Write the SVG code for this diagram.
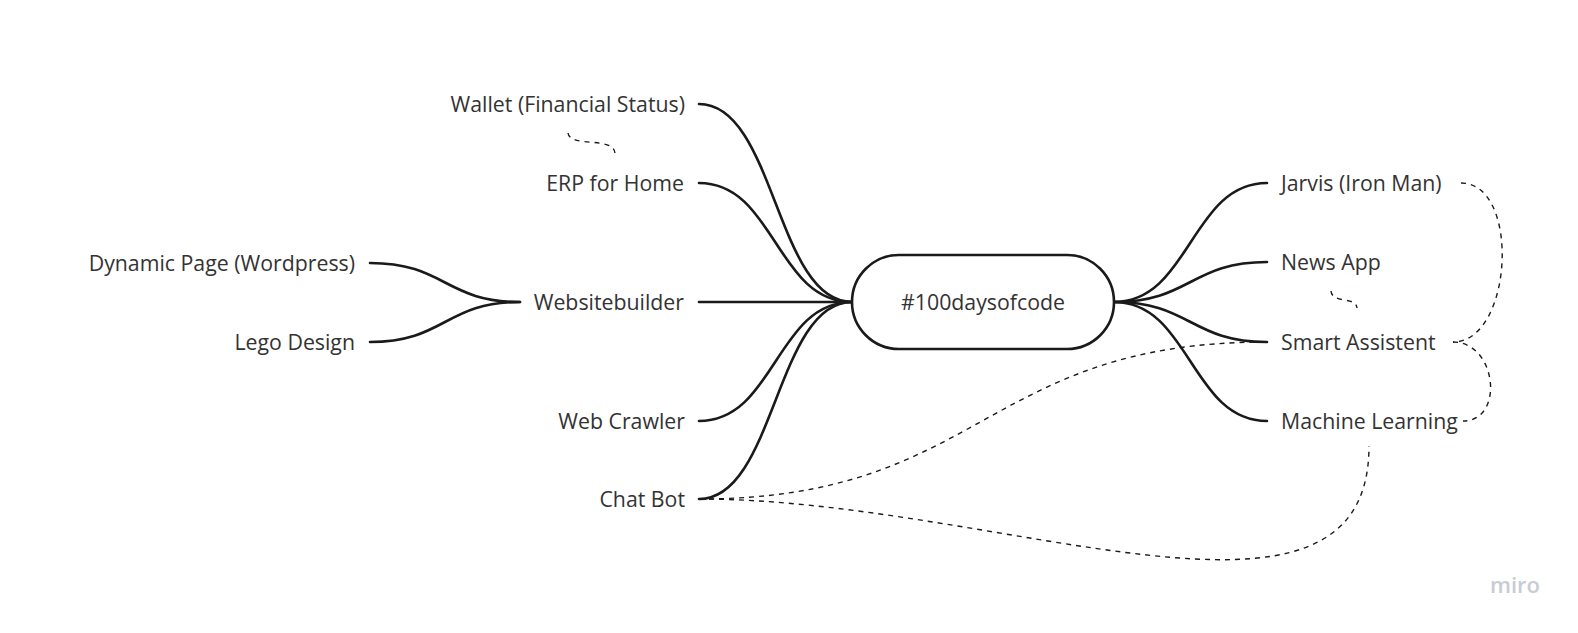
<svg xmlns="http://www.w3.org/2000/svg" width="1578" height="633" viewBox="0 0 1578 633">
<style>
.t{font-family:"Open Sans","Noto Sans","Liberation Sans",sans-serif;font-size:21.3px;fill:#333333}
.s{fill:none;stroke:#1a1a1a;stroke-width:2.6;stroke-linecap:round}
.d{fill:none;stroke:#1a1a1a;stroke-width:1.4;stroke-dasharray:5 5}
.logo{font-family:"Open Sans","Noto Sans","Liberation Sans",sans-serif;font-size:22px;font-weight:600;fill:#c9cbd5}
</style>
<rect width="1578" height="633" fill="#ffffff"/>
<g id="connectors">
<path class="s" d="M699,104 C775,104 776,302 852,302"/>
<path class="s" d="M699,183 C775,183 776,302 852,302"/>
<path class="s" d="M699,302 L852,302"/>
<path class="s" d="M699,421 C775,421 776,302 852,302"/>
<path class="s" d="M699,499 C775,499 776,302 852,302"/>
<path class="s" d="M1114,302 C1190,302 1191,183 1267,183"/>
<path class="s" d="M1114,302 C1190,302 1191,262 1267,262"/>
<path class="s" d="M1114,302 C1190,302 1191,342 1267,342"/>
<path class="s" d="M1114,302 C1190,302 1191,421 1267,421"/>
<path class="s" d="M520,302 C445,302 445,263 370,263"/>
<path class="s" d="M520,302 C445,302 445,342 370,342"/>
<path class="d" d="M568,133 C570,148 613,136 615,153"/>
<path class="d" d="M1331,291 C1332,304 1356,296 1357,308"/>
<path class="d" d="M1461,183 C1521,183 1513,342 1453,342"/>
<path class="d" d="M1453,342 C1497,342 1505,421 1463,421"/>
<path class="d" d="M699,499 C983,499 983,342 1267,342"/>
<path class="d" d="M699,499 C1000,499 1369,666 1369,446"/>
</g>
<g id="root">
<rect x="852" y="255" width="262" height="94" rx="47" ry="47" fill="#ffffff" stroke="#1a1a1a" stroke-width="2.6"/>
<text class="t" x="983" y="309.5" text-anchor="middle">#100daysofcode</text>
</g>
<g id="wallet"><text class="t" x="685" y="111.5" text-anchor="end">Wallet (Financial Status)</text></g>
<g id="erp"><text class="t" x="684" y="190.5" text-anchor="end">ERP for Home</text></g>
<g id="websitebuilder"><text class="t" x="684" y="309.5" text-anchor="end">Websitebuilder</text></g>
<g id="dynamic"><text class="t" x="355" y="270.5" text-anchor="end">Dynamic Page (Wordpress)</text></g>
<g id="lego"><text class="t" x="355" y="349.5" text-anchor="end">Lego Design</text></g>
<g id="crawler"><text class="t" x="685" y="428.5" text-anchor="end">Web Crawler</text></g>
<g id="chatbot"><text class="t" x="685" y="506.5" text-anchor="end">Chat Bot</text></g>
<g id="jarvis"><text class="t" x="1281" y="190.5">Jarvis (Iron Man)</text></g>
<g id="news"><text class="t" x="1281" y="269.5">News App</text></g>
<g id="smart"><text class="t" x="1281" y="349.5">Smart Assistent</text></g>
<g id="ml"><text class="t" x="1281" y="428.5">Machine Learning</text></g>
<text class="logo" x="1490" y="593">miro</text>
</svg>
